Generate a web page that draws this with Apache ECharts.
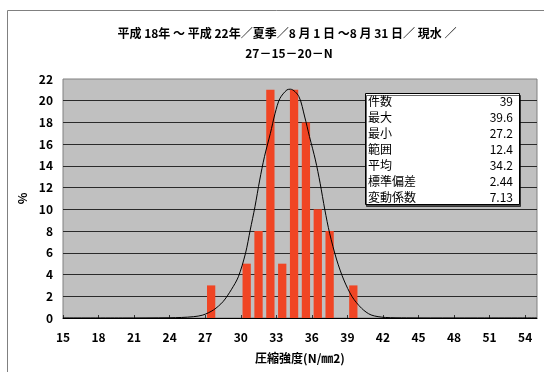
<!DOCTYPE html>
<html>
<head>
<meta charset="utf-8">
<script src="https://cdn.jsdelivr.net/npm/echarts@6/dist/echarts.min.js"></script>
<style>
  html, body { margin: 0; padding: 0; background: #fff; }
  #chart { width: 544px; height: 372px; }
</style>
</head>
<body>
<div id="chart"></div>
<script>
// 階級（1 N/mm2 刻み）
const categories = ['15', '16', '17', '18', '19', '20', '21', '22', '23', '24',
  '25', '26', '27', '28', '29', '30', '31', '32', '33', '34',
  '35', '36', '37', '38', '39', '40', '41', '42', '43', '44',
  '45', '46', '47', '48', '49', '50', '51', '52', '53', '54']
// 度数のある階級と割合(%)
const barBins = ['27', '30', '31', '32', '33', '34', '35', '36', '37', '39']
const barPercent = [3, 5, 8, 21, 5, 21, 18, 10, 8, 3]
// 正規分布曲線
const curveX = [15, 20, 24, 25, 26, 26.8, 27.7, 28.5, 29.2, 29.8, 30.4, 30.8, 31.2, 31.6, 32.0, 32.5, 32.9, 33.3, 33.9, 34.2,
  34.9, 35.4, 35.8, 36.3, 36.7, 37.1, 37.5, 38.1, 38.7, 39.4, 40.2, 41.0, 42.2, 44, 48, 55]
const curveY = [0, 0, 0.02, 0.05, 0.12, 0.27, 0.74, 1.5, 2.6, 3.8, 5.95, 8.1, 10.25, 12.7, 14.85, 17, 18.85, 20.2, 21.0, 21.06,
  20.4, 18.5, 16.7, 14.55, 12.4, 9.94, 7.8, 5.34, 3.5, 1.96, 0.89, 0.28, 0.05, 0.01, 0, 0]
// y軸の目盛（%）
const yTicks = [2, 4, 6, 8, 10, 12, 14, 16, 18, 20]
// 統計量
const statLabels = ['件数', '最大', '最小', '範囲', '平均', '標準偏差', '変動係数']
const statValues = ['39', '39.6', '27.2', '12.4', '34.2', '2.44', '7.13']

const titleLines = ['平成 18年 ～ 平成 22年／夏季／8 月 1 日 ～8 月 31 日／ 現水 ／', '27－15－20－N']

const fontFamily = '"Noto Sans CJK JP", sans-serif'
const boldFont = 'bold 12px ' + fontFamily
const chartsDom = echarts.init(document.getElementById('chart'))

const barData = categories.map(c => {
  const i = barBins.indexOf(c)
  return i >= 0 ? barPercent[i] : null
})

const statText = statLabels.map((label, i) => `{l|${label}}{v|${statValues[i]}}`).join('\n')

const axisNameStyle = { color: '#000', fontWeight: 'bold', fontSize: 12, fontFamily }
const axisLabelStyle = { color: '#000', fontWeight: 'bold', fontSize: 12, fontFamily }

const option = {
  animation: false,
  backgroundColor: '#fff',
  title: [
    {
      // 統計量ボックス
      text: statText,
      left: 365,
      top: 93,
      padding: [0, 7, 0, 3],
      backgroundColor: '#fff',
      borderColor: '#000',
      borderWidth: 1,
      shadowColor: 'rgba(0,0,0,0.6)',
      shadowOffsetX: 1,
      shadowOffsetY: 2,
      z: 100,
      textStyle: {
        fontSize: 12,
        fontWeight: 'normal',
        fontFamily,
        color: '#000',
        lineHeight: 16,
        rich: {
          l: { width: 100, fontSize: 12, fontFamily, color: '#000', lineHeight: 16 },
          v: { width: 45, align: 'right', fontSize: 12, fontFamily, color: '#000', lineHeight: 16 }
        }
      }
    }
  ],
  grid: {
    left: 63,
    right: 7,
    top: 79,
    bottom: 54,
    show: true,
    backgroundColor: '#C0C0C0',
    borderColor: '#808080',
    borderWidth: 1
  },
  xAxis: [
    {
      type: 'category',
      data: categories,
      show: false
    },
    {
      type: 'value',
      position: 'bottom',
      min: 15,
      max: 55,
      interval: 3,
      name: '圧縮強度(N/㎜2)',
      nameLocation: 'middle',
      nameGap: 34,
      nameTextStyle: axisNameStyle,
      axisLine: { show: true, lineStyle: { color: '#000', width: 1 } },
      axisTick: { show: true, inside: true, length: 3, lineStyle: { color: '#333' } },
      axisLabel: { margin: 13, showMaxLabel: false, ...axisLabelStyle },
      splitLine: { show: false }
    }
  ],
  yAxis: {
    type: 'value',
    min: 0,
    max: 22,
    interval: 2,
    name: '%',
    nameLocation: 'middle',
    nameGap: 17,
    nameTextStyle: axisNameStyle,
    axisLine: { show: false },
    axisTick: { show: false },
    axisLabel: { margin: 10, ...axisLabelStyle },
    splitLine: { show: false }
  },
  series: [
    {
      type: 'bar',
      xAxisIndex: 0,
      data: barData,
      barCategoryGap: '30%',
      itemStyle: { color: '#F04524' },
      // 目盛線
      markLine: {
        silent: true,
        symbol: 'none',
        label: { show: false },
        lineStyle: { color: '#2a2a2a', width: 1, type: 'solid' },
        z: 1,
        data: yTicks.map(v => ({ yAxis: v }))
      }
    },
    {
      type: 'line',
      xAxisIndex: 1,
      data: curveX.map((x, i) => [x, curveY[i]]),
      smooth: 0.3,
      showSymbol: false,
      symbol: 'none',
      lineStyle: { color: '#000', width: 1 },
      z: 5
    }
  ],
  graphic: [
    {
      type: 'rect',
      shape: { x: 7.5, y: 10.5, width: 600, height: 400 },
      style: { fill: 'none', stroke: '#808080', lineWidth: 1 },
      silent: true
    },
    {
      type: 'text', x: 287, y: 33,
      style: { text: titleLines[0], font: boldFont, fill: '#000', align: 'center', verticalAlign: 'middle' }
    },
    {
      type: 'text', x: 289, y: 53,
      style: { text: titleLines[1], font: boldFont, fill: '#000', align: 'center', verticalAlign: 'middle' }
    }
  ]
}
chartsDom.setOption(option)
</script>
</body>
</html>
